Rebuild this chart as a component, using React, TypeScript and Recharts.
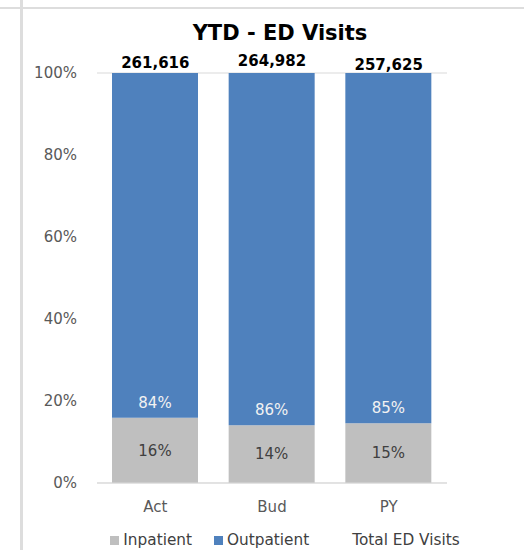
import { ComposedChart, Bar, Line, XAxis, YAxis, CartesianGrid, Legend, LabelList } from "recharts";

const categories = ["Act", "Bud", "PY"];
const inpatientPct = [15.9, 14.1, 14.6];
const outpatientPct = [84.1, 85.9, 85.4];
const totalVisits = [261616, 264982, 257625];
const yTicks = [0, 20, 40, 60, 80, 100];

const data = categories.map((name, i) => ({
  name,
  inpatient: inpatientPct[i],
  outpatient: outpatientPct[i],
  total: totalVisits[i],
}));

const FONT = "'DejaVu Sans', sans-serif";
const GRAY = "#BFBFBF";
const BLUE = "#4F81BD";

const legendItems = [
  { label: "Inpatient", color: GRAY },
  { label: "Outpatient", color: BLUE },
  { label: "Total ED Visits", color: "transparent" },
];

function ChartLegend() {
  return (
    <div style={{ height: 20, display: "flex", justifyContent: "center", alignItems: "center", gap: 22, paddingLeft: 46, whiteSpace: "nowrap", fontFamily: FONT, fontSize: 15.3, color: "#404040" }}>
      {legendItems.map((it, i) => (
        <div key={it.label} style={{ display: "flex", alignItems: "center", gap: 4, marginLeft: i === 2 ? 8 : 0 }}>
          <span style={{ width: 9, height: 9, background: it.color, display: "inline-block" }} />
          <span>{it.label}</span>
        </div>
      ))}
    </div>
  );
}

export default function App() {
  return (
    <div style={{ position: "absolute", left: 0, top: 0, width: 524, height: 550, background: "#fff", overflow: "hidden" }}>
      {/* sheet gridlines behind the chart */}
      <div style={{ position: "absolute", left: 0, top: 7, width: 524, height: 2, background: "#DDDDDD" }} />
      <div style={{ position: "absolute", left: 20, top: 0, width: 3, height: 550, background: "#DDDDDD" }} />
      <div style={{ position: "absolute", left: 23, top: 9, width: 501, height: 541, background: "#fff" }} />
      <div style={{ position: "absolute", left: 0, width: 560, top: 21, textAlign: "center", fontFamily: FONT, fontWeight: 700, fontSize: 21, color: "#000" }}>
        YTD - ED Visits
      </div>
      <div style={{ position: "absolute", left: 0, top: 0 }}>
        <ComposedChart width={524} height={550} data={data} margin={{ top: 73, right: 77, left: 0, bottom: 0 }}>
          <CartesianGrid vertical={false} stroke="#D9D9D9" />
          <XAxis dataKey="name" height={47} axisLine={{ stroke: "#D9D9D9" }} tickLine={false} tickMargin={12}
            tick={{ fontFamily: FONT, fontSize: 15, fill: "#595959" }} />
          <YAxis yAxisId="pct" domain={[0, 100]} ticks={yTicks} width={97} axisLine={false} tickLine={false} tickMargin={14}
            tickFormatter={(v) => `${v}%`} tick={{ fontFamily: FONT, fontSize: 15, fill: "#595959" }} />
          <YAxis yAxisId="total" orientation="right" hide scale="linear" domain={[-419500, 265000]} />
          <Legend verticalAlign="bottom" wrapperStyle={{ left: 0, width: 524 }} content={() => <ChartLegend />} />
          <Bar yAxisId="pct" dataKey="inpatient" stackId="a" fill={GRAY} barSize={86} isAnimationActive={false}>
            <LabelList dataKey="inpatient" position="center" formatter={(v: number) => `${Math.round(v)}%`}
              style={{ fontFamily: FONT, fontSize: 15, fill: "#404040" }} />
          </Bar>
          <Bar yAxisId="pct" dataKey="outpatient" stackId="a" fill={BLUE} barSize={86} isAnimationActive={false}>
            <LabelList dataKey="outpatient" position="insideBottom" offset={10} formatter={(v: number) => `${Math.round(v)}%`}
              style={{ fontFamily: FONT, fontSize: 15, fill: "#F2F2F2" }} />
          </Bar>
          <Line yAxisId="total" dataKey="total" stroke="none" dot={false} activeDot={false} isAnimationActive={false}>
            <LabelList dataKey="total" position="top" offset={7} formatter={(v: number) => v.toLocaleString("en-US")}
              style={{ fontFamily: FONT, fontSize: 15, fontWeight: 700, fill: "#000" }} />
          </Line>
        </ComposedChart>
      </div>
    </div>
  );
}
